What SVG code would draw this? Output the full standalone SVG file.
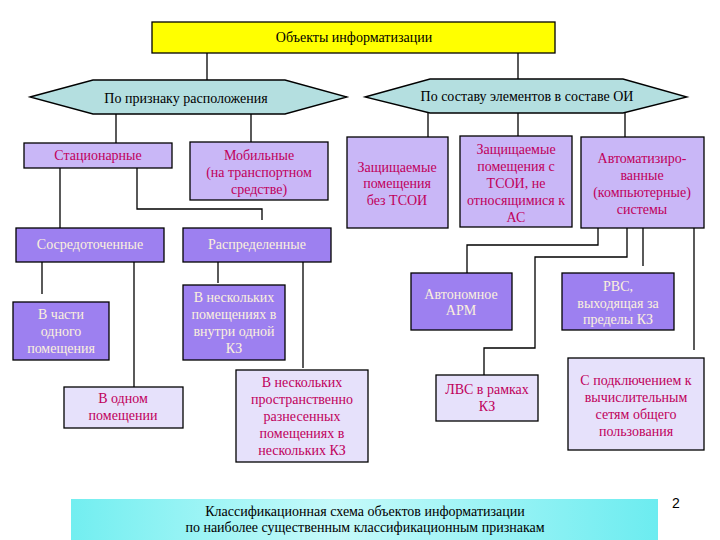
<svg xmlns="http://www.w3.org/2000/svg" width="720" height="540" viewBox="0 0 720 540">
<style>
.bx{stroke:#000;stroke-width:1.3}
.top{fill:#ffff00}
.hex{fill:#b4dfe0}
.lt{fill:#c9b7f7}
.dk{fill:#9d80f0}
.pl{fill:#e6e1fb}
.tb{fill:#000}
.tm{fill:#c0005c}
.tw{fill:#fbf0dc}
.cn path{fill:none;stroke:#000;stroke-width:1.3}
</style>
<defs>
<linearGradient id="cy" x1="0" y1="0" x2="1" y2="0">
<stop offset="0" stop-color="#72eef0"/>
<stop offset="0.45" stop-color="#c6fafa"/>
<stop offset="1" stop-color="#6cecf0"/>
</linearGradient>
</defs>
<rect width="720" height="540" fill="#fff"/>
<g class="cn" id="connectors">
<path d="M207,53V80"/>
<path d="M518,53V79"/>
<path d="M116,114V143"/>
<path d="M251,114V142"/>
<path d="M428,113V137"/>
<path d="M518,113V136"/>
<path d="M625,113V137"/>
<path d="M60,168V228"/>
<path d="M137,168V209H262V220"/>
<path d="M42,262V294"/>
<path d="M134,262V387"/>
<path d="M218,262V283"/>
<path d="M303,262V368"/>
<path d="M598,228V245H467V273"/>
<path d="M627,228V257H535V348H484V375"/>
<path d="M643,228V266"/>
<path d="M694,228V350"/>
</g>
<g id="root"><rect class="bx top" x="152" y="22" width="403" height="31"/><text class="tb" x="354" y="42" font-family="Liberation Serif, serif" font-size="14" text-anchor="middle">Объекты информатизации</text></g>
<g id="hexLeft"><polygon class="bx hex" points="30,97 93,80 285,80 347,97 285,114 93,114"/><text class="tb" x="186" y="103" font-family="Liberation Serif, serif" font-size="14" text-anchor="middle">По признаку расположения</text></g>
<g id="hexRight"><polygon class="bx hex" points="365,97 430,79 623,79 687,97 623,113 430,113"/><text class="tb" x="527" y="101" font-family="Liberation Serif, serif" font-size="14" text-anchor="middle">По составу элементов в составе ОИ</text></g>
<g id="stat"><rect class="bx lt" x="24" y="143" width="148" height="25"/><text class="tm" x="98" y="160" font-family="Liberation Serif, serif" font-size="14" text-anchor="middle">Стационарные</text></g>
<g id="mob"><rect class="bx lt" x="190" y="142" width="138" height="58"/><text class="tm" x="259" y="160" font-family="Liberation Serif, serif" font-size="14" text-anchor="middle">Мобильные</text><text class="tm" x="259" y="177" font-family="Liberation Serif, serif" font-size="14" text-anchor="middle">(на транспортном</text><text class="tm" x="259" y="194" font-family="Liberation Serif, serif" font-size="14" text-anchor="middle">средстве)</text></g>
<g id="sosr"><rect class="bx dk" x="16" y="228" width="148" height="34"/><text class="tw" x="90" y="249" font-family="Liberation Serif, serif" font-size="14" text-anchor="middle">Сосредоточенные</text></g>
<g id="raspr"><rect class="bx dk" x="183" y="228" width="148" height="34"/><text class="tw" x="257" y="249" font-family="Liberation Serif, serif" font-size="14" text-anchor="middle">Распределенные</text></g>
<g id="zp1"><rect class="bx lt" x="347" y="137" width="101" height="91"/><text class="tm" x="397" y="172" font-family="Liberation Serif, serif" font-size="14" text-anchor="middle">Защищаемые</text><text class="tm" x="397" y="188" font-family="Liberation Serif, serif" font-size="14" text-anchor="middle">помещения</text><text class="tm" x="397" y="205" font-family="Liberation Serif, serif" font-size="14" text-anchor="middle">без ТСОИ</text></g>
<g id="zp2"><rect class="bx lt" x="460" y="136" width="112" height="91"/><text class="tm" x="516" y="154" font-family="Liberation Serif, serif" font-size="14" text-anchor="middle">Защищаемые</text><text class="tm" x="516" y="171" font-family="Liberation Serif, serif" font-size="14" text-anchor="middle">помещения с</text><text class="tm" x="516" y="188" font-family="Liberation Serif, serif" font-size="14" text-anchor="middle">ТСОИ, не</text><text class="tm" x="516" y="205" font-family="Liberation Serif, serif" font-size="14" text-anchor="middle">относящимися к</text><text class="tm" x="516" y="222" font-family="Liberation Serif, serif" font-size="14" text-anchor="middle">АС</text></g>
<g id="avt"><rect class="bx lt" x="581" y="137" width="123" height="91"/><text class="tm" x="642" y="163" font-family="Liberation Serif, serif" font-size="14" text-anchor="middle">Автоматизиро-</text><text class="tm" x="642" y="180" font-family="Liberation Serif, serif" font-size="14" text-anchor="middle">ванные</text><text class="tm" x="642" y="197" font-family="Liberation Serif, serif" font-size="14" text-anchor="middle">(компьютерные)</text><text class="tm" x="642" y="214" font-family="Liberation Serif, serif" font-size="14" text-anchor="middle">системы</text></g>
<g id="chast"><rect class="bx dk" x="13" y="302" width="96" height="58"/><text class="tw" x="61" y="319" font-family="Liberation Serif, serif" font-size="14" text-anchor="middle">В части</text><text class="tw" x="61" y="336" font-family="Liberation Serif, serif" font-size="14" text-anchor="middle">одного</text><text class="tw" x="61" y="353" font-family="Liberation Serif, serif" font-size="14" text-anchor="middle">помещения</text></g>
<g id="odnom"><rect class="bx pl" x="64" y="387" width="119" height="41"/><text class="tm" x="123" y="403" font-family="Liberation Serif, serif" font-size="14" text-anchor="middle">В одном</text><text class="tm" x="123" y="420" font-family="Liberation Serif, serif" font-size="14" text-anchor="middle">помещении</text></g>
<g id="neskVn"><rect class="bx dk" x="183" y="285" width="102" height="75"/><text class="tw" x="234" y="302" font-family="Liberation Serif, serif" font-size="14" text-anchor="middle">В нескольких</text><text class="tw" x="234" y="319" font-family="Liberation Serif, serif" font-size="14" text-anchor="middle">помещениях в</text><text class="tw" x="234" y="336" font-family="Liberation Serif, serif" font-size="14" text-anchor="middle">внутри одной</text><text class="tw" x="234" y="353" font-family="Liberation Serif, serif" font-size="14" text-anchor="middle">КЗ</text></g>
<g id="neskRaz"><rect class="bx pl" x="236" y="370" width="132" height="92"/><text class="tm" x="302" y="387" font-family="Liberation Serif, serif" font-size="14" text-anchor="middle">В нескольких</text><text class="tm" x="302" y="404" font-family="Liberation Serif, serif" font-size="14" text-anchor="middle">пространственно</text><text class="tm" x="302" y="421" font-family="Liberation Serif, serif" font-size="14" text-anchor="middle">разнесенных</text><text class="tm" x="302" y="438" font-family="Liberation Serif, serif" font-size="14" text-anchor="middle">помещениях в</text><text class="tm" x="302" y="455" font-family="Liberation Serif, serif" font-size="14" text-anchor="middle">нескольких КЗ</text></g>
<g id="arm"><rect class="bx dk" x="411" y="273" width="101" height="57"/><text class="tw" x="461" y="299" font-family="Liberation Serif, serif" font-size="14" text-anchor="middle">Автономное</text><text class="tw" x="461" y="315" font-family="Liberation Serif, serif" font-size="14" text-anchor="middle">АРМ</text></g>
<g id="rvs"><rect class="bx dk" x="562" y="273" width="112" height="57"/><text class="tw" x="618" y="291" font-family="Liberation Serif, serif" font-size="14" text-anchor="middle">РВС,</text><text class="tw" x="618" y="308" font-family="Liberation Serif, serif" font-size="14" text-anchor="middle">выходящая за</text><text class="tw" x="618" y="324" font-family="Liberation Serif, serif" font-size="14" text-anchor="middle">пределы КЗ</text></g>
<g id="lvs"><rect class="bx pl" x="436" y="375" width="102" height="46"/><text class="tm" x="487" y="394" font-family="Liberation Serif, serif" font-size="14" text-anchor="middle">ЛВС в рамках</text><text class="tm" x="487" y="411" font-family="Liberation Serif, serif" font-size="14" text-anchor="middle">КЗ</text></g>
<g id="podkl"><rect class="bx pl" x="568" y="358" width="136" height="92"/><text class="tm" x="636" y="385" font-family="Liberation Serif, serif" font-size="14" text-anchor="middle">С подключением к</text><text class="tm" x="636" y="402" font-family="Liberation Serif, serif" font-size="14" text-anchor="middle">вычислительным</text><text class="tm" x="636" y="419" font-family="Liberation Serif, serif" font-size="14" text-anchor="middle">сетям общего</text><text class="tm" x="636" y="436" font-family="Liberation Serif, serif" font-size="14" text-anchor="middle">пользования</text></g>
<g id="caption"><rect x="71" y="499" width="587" height="41" fill="url(#cy)"/><text class="tb" x="365" y="516" font-family="Liberation Serif, serif" font-size="14" text-anchor="middle">Классификационная схема объектов информатизации</text><text class="tb" x="365" y="532" font-family="Liberation Serif, serif" font-size="14" text-anchor="middle">по наиболее существенным классификационным признакам</text></g>
<text x="672" y="508" font-family="Liberation Sans, Arial, sans-serif" font-size="14">2</text>
</svg>
